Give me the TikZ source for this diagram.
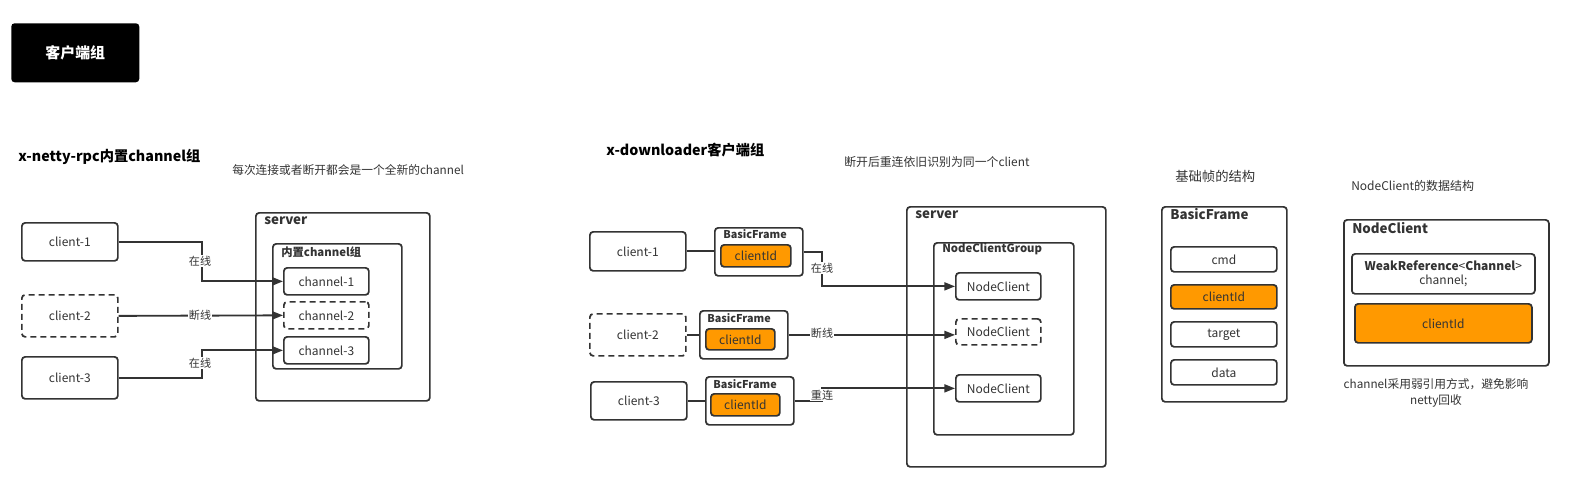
\documentclass[tikz,border=0pt]{standalone}
\usepackage{fontspec}
\setmainfont{Noto Sans CJK SC}
\usetikzlibrary{arrows.meta}
\definecolor{ln}{HTML}{333333}
\definecolor{org}{HTML}{FF9900}
\definecolor{tx}{HTML}{333333}
\newcommand\bx[7][]{\node[box,#1,anchor=north west,minimum width={(#5-#3)*0.75pt},minimum height={(#6-#4)*0.75pt}] (#2) at (#3,#4) {#7};}
\tikzset{x=0.75pt,y=-0.75pt,
 box/.style={draw=ln, line width=1.3pt, rounded corners=2.5pt, fill=white, inner sep=0pt, text=tx, align=center, font=\fontsize{9}{11}\selectfont},
 dbox/.style={box, dash pattern=on 4.5pt off 3pt},
 obox/.style={box, fill=org},
 conn/.style={draw=ln, line width=1.4pt},
 arr/.style={conn, -{Triangle[length=8pt,width=6pt]}},
 lbl/.style={fill=white, inner sep=1pt, text=tx, font=\fontsize{8.3}{10}\selectfont},
 ttl/.style={anchor=west, font=\bfseries\fontsize{10.7}{12}\selectfont, text=black, inner sep=0pt},
 sub/.style={anchor=west, font=\fontsize{8.8}{10}\selectfont, text=tx, inner sep=0pt},
 clab/.style={anchor=west, font=\bfseries\fontsize{10}{12}\selectfont, text=tx, inner sep=0pt},
 slab/.style={anchor=west, font=\bfseries\fontsize{8.5}{10}\selectfont, text=tx, inner sep=0pt},
 flab/.style={font=\bfseries\fontsize{8.1}{9}\selectfont, text=tx, inner sep=0pt},
}
\begin{document}
\begin{tikzpicture}
\useasboundingbox (0,0) rectangle (1574,493);
% header
\node[fill=black, rounded corners=2.5pt, anchor=north west, minimum width={128*0.75pt}, minimum height={59*0.75pt}, text=white, font=\bfseries\fontsize{11.2}{13}\selectfont] (hdr) at (11,23) {客户端组};

% ===== left section =====
\node[ttl] (t1) at (18,157) {x-netty-rpc内置channel组};
\node[sub] (s1) at (232,170) {每次连接或者断开都会是一个全新的channel};
\bx{srv1}{255}{212}{429}{400}{}
\node[clab] (srv1l) at (264,221) {server};
\bx{grp1}{272}{243}{401}{368}{}
\node[slab] (grp1l) at (281,252) {内置channel组};
\bx{ch1}{283}{267}{368}{294}{channel-1}
\bx[dbox]{ch2}{283}{301}{368}{328}{channel-2}
\bx{ch3}{283}{336}{368}{363}{channel-3}
\bx{c1}{21}{222}{117}{260}{client-1}
\bx[dbox]{c2}{21}{294}{117}{336}{client-2}
\bx{c3}{21}{356}{117}{398}{client-3}
\draw[arr] (c1.east) -- ++(83,0) coordinate (k1) |- (ch1.west);
\node[lbl] (l1) at (200,261) {在线};
\draw[arr] (c2.east) -- (ch2.west);
\node[lbl] (l2) at (200,315) {断线};
\draw[arr] (c3.east) -- ++(83,0) coordinate (k3) |- (ch3.west);
\node[lbl] (l3) at (200,363) {在线};

% ===== middle section =====
\node[ttl] (t2) at (606,150) {x-downloader客户端组};
\node[sub, font=\fontsize{8.9}{10}\selectfont] (s2) at (844,162) {断开后重连依旧识别为同一个client};
\bx{srv2}{906}{206}{1105}{466}{}
\node[clab] (srv2l) at (915,215) {server};
\bx{grp2}{933}{242}{1073}{434}{}
\node[slab] (grp2l) at (942,249) {NodeClientGroup};
\bx{nc1}{955}{272}{1040}{299}{NodeClient}
\bx[dbox]{nc2}{955}{318}{1040}{344}{NodeClient}
\bx{nc3}{955}{374}{1040}{401}{NodeClient}

\bx{m1}{589}{231}{685}{270}{client-1}
\bx[dbox]{m2}{589}{313}{685}{355}{client-2}
\bx{m3}{590}{381}{686}{419}{client-3}

\bx{bf1}{714}{227}{802}{275}{}
\node[flab] (bf1l) at (755,234) {BasicFrame};
\bx[obox]{id1}{720}{244}{790}{266}{clientId}
\bx{bf2}{699}{310}{787}{358}{}
\node[flab] (bf2l) at (739,318) {BasicFrame};
\bx[obox]{id2}{705}{328}{774}{349}{clientId}
\bx{bf3}{705}{376}{793}{424}{}
\node[flab] (bf3l) at (745,384) {BasicFrame};
\bx[obox]{id3}{710}{393}{779}{415}{clientId}

\draw[conn] (m1.east) -- (bf1.west |- m1.east);
\draw[conn] (m2.east) -- (bf2.west |- m2.east);
\draw[conn] (m3.east) -- (bf3.west |- m3.east);
\draw[arr] (bf1.east) -- ++(18,0) |- (nc1.west);
\node[lbl] (ml1) at (822,268) {在线};
\draw[arr] (bf2.east) -- (bf2.east -| nc2.west);
\node[lbl] (ml2) at (822,333) {断线};
\draw[arr] (bf3.east) -- ++(27,0) |- (nc3.west);
\node[lbl] (ml3) at (822,395) {重连};

% ===== right section =====
\node[sub, font=\fontsize{10}{12}\selectfont] (s3) at (1175,176) {基础帧的结构};
\bx{bfs}{1161}{206}{1286}{401}{}
\node[clab] (bfsl) at (1170,214) {BasicFrame};
\bx{f1}{1170}{246}{1276}{271}{cmd}
\bx[obox]{f2}{1170}{284}{1276}{308}{clientId}
\bx{f3}{1170}{321}{1276}{346}{target}
\bx{f4}{1170}{359}{1276}{384}{data}

\node[sub, font=\fontsize{9}{11}\selectfont] (s4) at (1351,186) {NodeClient的数据结构};
\bx{ncs}{1343}{219}{1548}{365}{}
\node[clab] (ncsl) at (1352,228) {NodeClient};
\bx{wr}{1351}{253}{1534}{293}{\textbf{WeakReference}<\textbf{Channel}>\\channel;}
\bx[obox]{cid}{1354}{303}{1531}{342}{clientId}
\node[sub, anchor=center, align=center, font=\fontsize{8.8}{11.5}\selectfont] (cap) at (1436,393) {channel采用弱引用方式，避免影响\\netty回收};
\end{tikzpicture}
\end{document}
